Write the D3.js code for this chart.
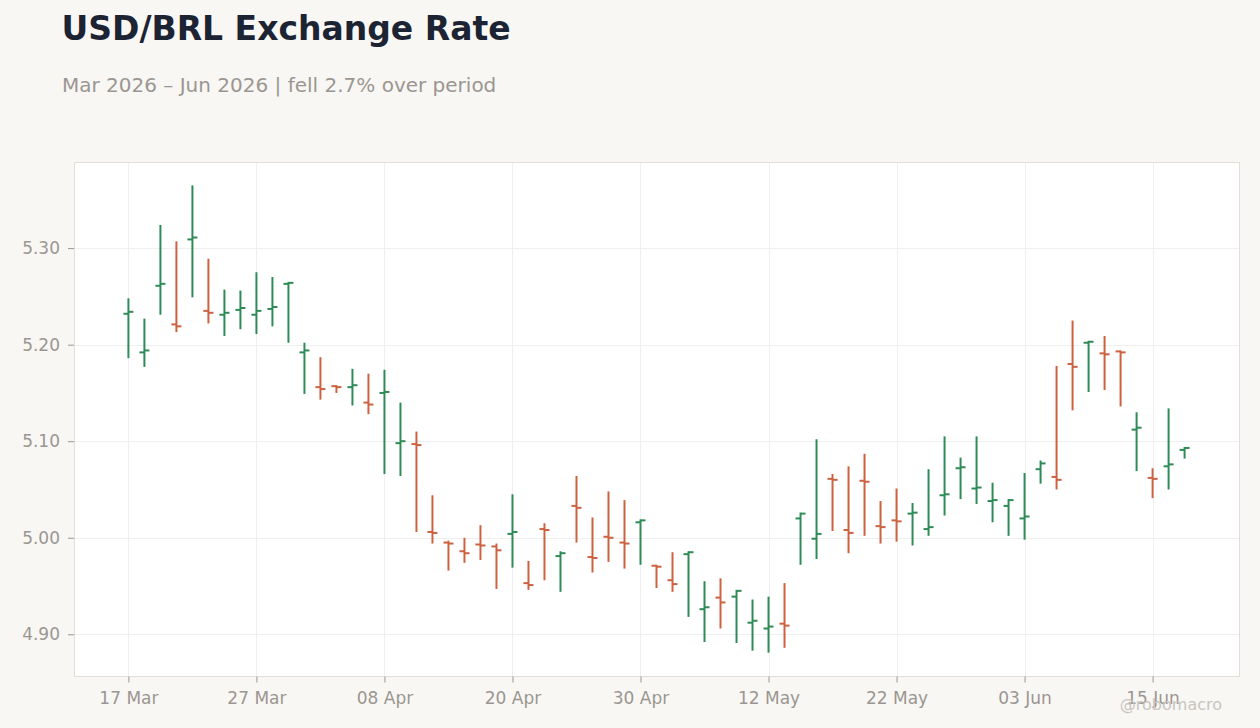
<!DOCTYPE html>
<meta charset="utf-8" />
<script src="https://d3js.org/d3.v7.min.js"></script>
<style>
  body { margin: 0; background: #f8f7f4; }
  svg { display: block; font-family: "DejaVu Sans", sans-serif; }
</style>
<body>
  <div id="chart"></div>
  <script>
    // trading days shown on the chart
    const dates = [
      "2026-03-17", "2026-03-18", "2026-03-19", "2026-03-20", "2026-03-23", "2026-03-24",
      "2026-03-25", "2026-03-26", "2026-03-27", "2026-03-30", "2026-03-31",
      "2026-04-01", "2026-04-02", "2026-04-03", "2026-04-06", "2026-04-07", "2026-04-08",
      "2026-04-09", "2026-04-10", "2026-04-13", "2026-04-14", "2026-04-15", "2026-04-16",
      "2026-04-17", "2026-04-20", "2026-04-21", "2026-04-22", "2026-04-23", "2026-04-24",
      "2026-04-27", "2026-04-28", "2026-04-29", "2026-04-30",
      "2026-05-01", "2026-05-04", "2026-05-05", "2026-05-06", "2026-05-07", "2026-05-08",
      "2026-05-11", "2026-05-12", "2026-05-13", "2026-05-14", "2026-05-15", "2026-05-18",
      "2026-05-19", "2026-05-20", "2026-05-21", "2026-05-22", "2026-05-25", "2026-05-26",
      "2026-05-27", "2026-05-28", "2026-05-29",
      "2026-06-01", "2026-06-02", "2026-06-03", "2026-06-04", "2026-06-05", "2026-06-08",
      "2026-06-09", "2026-06-10", "2026-06-11", "2026-06-12", "2026-06-15", "2026-06-16",
      "2026-06-17",
    ];

    const open = [
      5.232, 5.192, 5.261, 5.221, 5.309, 5.235, 5.231, 5.236, 5.231, 5.237, 5.263,
      5.192, 5.156, 5.157, 5.156, 5.140, 5.150, 5.098, 5.097, 5.006, 4.995, 4.986,
      4.993, 4.991, 5.004, 4.953, 5.009, 4.981, 5.033, 4.980, 5.001, 4.995, 5.016,
      4.971, 4.956, 4.983, 4.926, 4.938, 4.939, 4.912, 4.906, 4.911, 5.020, 4.999,
      5.061, 5.008, 5.059, 5.012, 5.018, 5.025, 5.009, 5.044, 5.072, 5.051, 5.038,
      5.033, 5.020, 5.071, 5.063, 5.180, 5.202, 5.191, 5.193, 5.112, 5.062, 5.074,
      5.091,
    ];
    const high = [
      5.248, 5.227, 5.324, 5.307, 5.365, 5.289, 5.257, 5.256, 5.275, 5.270, 5.265,
      5.202, 5.187, 5.158, 5.175, 5.170, 5.174, 5.140, 5.110, 5.044, 4.997, 5.000,
      5.013, 4.994, 5.045, 4.976, 5.015, 4.986, 5.064, 5.021, 5.048, 5.039, 5.019,
      4.972, 4.985, 4.986, 4.955, 4.958, 4.946, 4.936, 4.939, 4.953, 5.026, 5.102,
      5.066, 5.074, 5.087, 5.038, 5.051, 5.036, 5.071, 5.105, 5.083, 5.105, 5.057,
      5.040, 5.067, 5.080, 5.178, 5.225, 5.204, 5.209, 5.194, 5.130, 5.072, 5.134,
      5.094,
    ];
    const low = [
      5.186, 5.177, 5.231, 5.213, 5.249, 5.222, 5.209, 5.216, 5.211, 5.219, 5.202,
      5.149, 5.143, 5.150, 5.137, 5.128, 5.066, 5.064, 5.006, 4.994, 4.966, 4.974,
      4.977, 4.947, 4.969, 4.946, 4.956, 4.944, 4.995, 4.964, 4.975, 4.968, 4.972,
      4.948, 4.944, 4.918, 4.892, 4.906, 4.891, 4.883, 4.881, 4.886, 4.972, 4.978,
      5.007, 4.984, 5.002, 4.994, 4.996, 4.992, 5.002, 5.023, 5.040, 5.035, 5.016,
      5.002, 4.998, 5.056, 5.050, 5.132, 5.151, 5.153, 5.136, 5.069, 5.041, 5.050,
      5.082,
    ];
    const close = [
      5.234, 5.194, 5.263, 5.219, 5.311, 5.233, 5.233, 5.238, 5.235, 5.239, 5.264,
      5.194, 5.154, 5.156, 5.158, 5.138, 5.151, 5.100, 5.096, 5.005, 4.994, 4.984,
      4.992, 4.987, 5.006, 4.951, 5.008, 4.984, 5.031, 4.979, 5.000, 4.994, 5.018,
      4.970, 4.952, 4.985, 4.928, 4.933, 4.945, 4.914, 4.908, 4.909, 5.025, 5.004,
      5.060, 5.005, 5.058, 5.011, 5.017, 5.026, 5.011, 5.045, 5.073, 5.052, 5.039,
      5.039, 5.022, 5.077, 5.060, 5.177, 5.203, 5.190, 5.192, 5.114, 5.061, 5.076,
      5.093,
    ];

    const yTicks = [4.9, 5.0, 5.1, 5.2, 5.3];

    const W = 1260, H = 728;
    const margin = { top: 162, right: 21, bottom: 52, left: 74 };
    const upColor = "#2e8b57";
    const downColor = "#cd6140";

    const parse = d3.timeParse("%Y-%m-%d");
    const fmt = d3.timeFormat("%d %b");

    const data = dates.map((d, i) => ({
      date: d,
      open: open[i],
      high: high[i],
      low: low[i],
      close: close[i],
    }));

    const svg = d3
      .select("#chart")
      .append("svg")
      .attr("width", W)
      .attr("height", H);

    svg.append("rect").attr("width", W).attr("height", H).attr("fill", "#f8f7f4");

    // title + subtitle
    svg
      .append("text")
      .attr("x", 61.5)
      .attr("y", 40)
      .attr("font-size", "33px")
      .attr("font-weight", "bold")
      .attr("fill", "#1c2333")
      .text("USD/BRL Exchange Rate");

    svg
      .append("text")
      .attr("x", 62)
      .attr("y", 92)
      .attr("font-size", "20px")
      .attr("fill", "#9b9691")
      .text("Mar 2026 \u2013 Jun 2026 | fell 2.7% over period");

    const x = d3
      .scalePoint()
      .domain(dates)
      .range([margin.left, W - margin.right])
      .padding(3.4);

    const yMin = d3.min(low), yMax = d3.max(high);
    const pad = (yMax - yMin) * 0.05;
    const y = d3
      .scaleLinear()
      .domain([yMin - pad, yMax + pad])
      .range([H - margin.bottom, margin.top]);

    // plot background
    svg
      .append("rect")
      .attr("x", margin.left + 0.5)
      .attr("y", margin.top + 0.5)
      .attr("width", W - margin.left - margin.right)
      .attr("height", H - margin.top - margin.bottom)
      .attr("fill", "#ffffff")
      .attr("stroke", "#e2ded7");

    const xTickDates = dates.filter((d, i) => i % 8 === 0);

    // grid
    svg
      .append("g")
      .selectAll("line")
      .data(yTicks)
      .join("line")
      .attr("x1", margin.left + 1)
      .attr("x2", W - margin.right)
      .attr("y1", (d) => Math.round(y(d)) + 0.5)
      .attr("y2", (d) => Math.round(y(d)) + 0.5)
      .attr("stroke", "#efefef");

    svg
      .append("g")
      .selectAll("line")
      .data(xTickDates)
      .join("line")
      .attr("x1", (d) => Math.round(x(d)) + 0.5)
      .attr("x2", (d) => Math.round(x(d)) + 0.5)
      .attr("y1", margin.top + 1)
      .attr("y2", H - margin.bottom)
      .attr("stroke", "#efefef");

    // axes
    const yAxis = svg
      .append("g")
      .attr("transform", `translate(${margin.left},0)`)
      .call(
        d3.axisLeft(y).tickValues(yTicks).tickFormat(d3.format(".2f")).tickSize(6).tickPadding(8)
      );

    const xAxis = svg
      .append("g")
      .attr("transform", `translate(0,${H - margin.bottom + 0.5})`)
      .call(
        d3.axisBottom(x).tickValues(xTickDates).tickFormat((d) => fmt(parse(d))).tickSize(6).tickPadding(9)
      );

    [yAxis, xAxis].forEach((g) => {
      g.select(".domain").remove();
      g.selectAll(".tick line").attr("stroke", "#9b9691");
      g.selectAll(".tick text")
        .attr("fill", "#9b9691")
        .attr("font-size", "17px")
        .attr("font-family", "DejaVu Sans, sans-serif");
    });

    // OHLC bars
    const bars = svg
      .append("g")
      .selectAll("g")
      .data(data)
      .join("g")
      .attr("stroke", (d) => (d.close >= d.open ? upColor : downColor))
      .attr("stroke-width", 2);

    bars
      .append("line")
      .attr("x1", (d) => x(d.date))
      .attr("x2", (d) => x(d.date))
      .attr("y1", (d) => y(d.high))
      .attr("y2", (d) => y(d.low));

    bars
      .append("line")
      .attr("x1", (d) => x(d.date) - 5)
      .attr("x2", (d) => x(d.date))
      .attr("y1", (d) => y(d.open))
      .attr("y2", (d) => y(d.open));

    bars
      .append("line")
      .attr("x1", (d) => x(d.date))
      .attr("x2", (d) => x(d.date) + 5)
      .attr("y1", (d) => y(d.close))
      .attr("y2", (d) => y(d.close));

    // watermark
    svg
      .append("text")
      .attr("x", 1222)
      .attr("y", 710)
      .attr("text-anchor", "end")
      .attr("font-size", "16px")
      .attr("fill", "#c9c5c0")
      .text("@robomacro");
  </script>
</body>
